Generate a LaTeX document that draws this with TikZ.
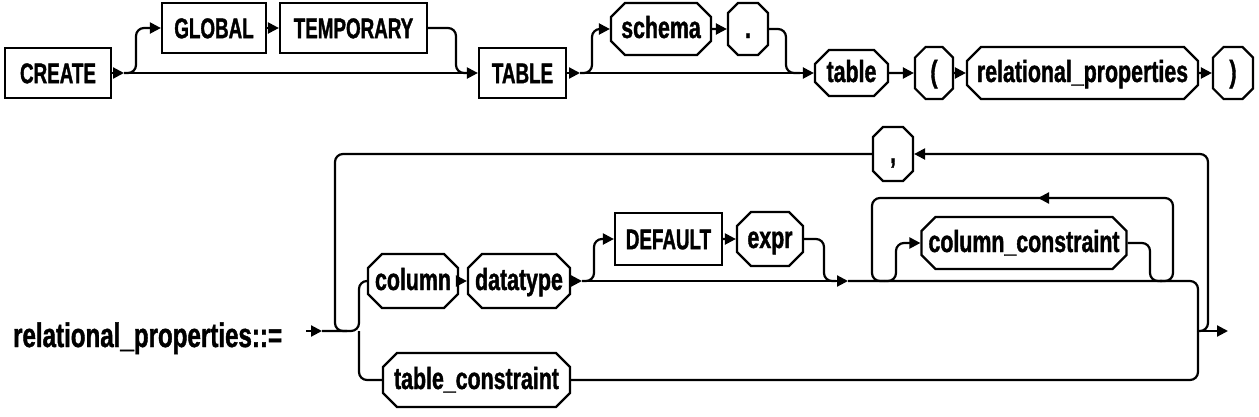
\documentclass[tikz,border=0pt]{standalone}
\usepackage{fontspec}
\newfontfamily\kwfont{Liberation Sans}[FakeStretch=0.66,FakeBold=1.2]
\newfontfamily\ntfont{Liberation Sans}[FakeStretch=0.70,FakeBold=1.2]
\newfontfamily\lbfont{Liberation Sans}[FakeStretch=0.71,FakeBold=1.2]
\usetikzlibrary{arrows.meta,shapes.misc}
\begin{document}
\begin{tikzpicture}[x=1pt,y=-1pt,
  line width=2.2pt,
  arr/.style={-{Triangle[length=11pt,width=11pt]}},
  kw/.style={draw, line width=2.2pt, inner sep=0pt, minimum height=50pt,
    font=\fontsize{28.5}{30}\selectfont\kwfont\bfseries, text height=20.4pt, text depth=0pt},
  nt/.style={draw, line width=2.2pt, chamfered rectangle, chamfered rectangle xsep=7pt,
    chamfered rectangle ysep=7pt, inner sep=0pt, minimum height=52pt,
    font=\fontsize{30.5}{32}\selectfont\ntfont\bfseries, text height=22pt, text depth=4pt},
  conn/.style={line width=2.2pt, rounded corners=8pt}
]
\useasboundingbox (0,0) rectangle (1259,416);
% ---------- top diagram ----------
\node[kw, minimum width=106pt] (create) at (58,73) {CREATE};
\node[kw, minimum width=104pt] (global) at (214,28) {GLOBAL};
\node[kw, minimum width=147pt] (temp) at (353.5,28) {TEMPORARY};
\node[kw, minimum width=87pt] (tablekw) at (522.5,73) {TABLE};
\node[nt, minimum width=100pt] (schema) at (661,29) {schema};
\node[nt, minimum width=40pt] (dot) at (748,29) {.};
\node[nt, minimum width=73pt, minimum height=46pt] (tbl) at (851.5,73) {table};
\node[nt, minimum width=38pt] (lp) at (934,73) {(};
\node[nt, minimum width=231pt] (rp) at (1082.5,73) {relational\_properties};
\node[nt, minimum width=40pt] (rpar) at (1233,73) {)};

\coordinate (j1) at (124,73);
\coordinate (j1b) at (470,73);
\coordinate (j2) at (580,73);
\coordinate (j2b) at (800,73);
\draw[arr] (create.east) -- (j1);
\draw[arr] (j1) -- (tablekw.west);
\draw[conn,arr] (j1) -| (136,28) -- (global.west);
\draw[arr] (global) -- (temp);
\draw[conn] (temp.east) -| (456,73) -- (j1b);
\draw[arr] (tablekw.east) -- (j2);
\draw[arr] (j2) -- (tbl.west);
\draw[conn,arr] (j2) -| (592,29) -- (schema.west);
\draw[arr] (schema) -- (dot);
\draw[conn] (dot.east) -| (786,73) -- (j2b);
\draw[arr] (tbl) -- (lp);
\draw[arr] (lp) -- (rp);
\draw[arr] (rp) -- (rpar);

% ---------- bottom diagram ----------
\node[anchor=base west, inner sep=0pt, font=\fontsize{34}{36}\selectfont\lbfont\bfseries] (lbl) at (12,347) {relational\_properties::=};
\node[nt, minimum width=90pt, minimum height=54pt] (col) at (413,281) {column};
\node[nt, minimum width=102pt, minimum height=54pt] (dtype) at (519,281) {datatype};
\node[kw, minimum width=107pt, minimum height=52pt] (def) at (668.5,239) {DEFAULT};
\node[nt, minimum width=66pt, minimum height=54pt] (expr) at (770,239) {expr};
\node[nt, minimum width=202pt] (cc) at (1024,243) {column\_constraint};
\node[nt, minimum width=187pt, minimum height=54pt] (tc) at (476.5,380) {table\_constraint};
\node[nt, minimum width=40pt, minimum height=54pt] (comma) at (893,154) {,};

\coordinate (s0) at (306,331);
\coordinate (s1) at (322,331);
\coordinate (b0) at (359,331);
\coordinate (lj) at (347,331);
\coordinate (j3) at (582,281);
\coordinate (j3b) at (836,281);
\coordinate (j4) at (848,281);
\coordinate (c1) at (884,281);
\coordinate (c2) at (1162,281);
\coordinate (c3) at (1160,281);
\coordinate (ta) at (1038,198);
\coordinate (tb) at (1045,198);
\coordinate (jend) at (1198,331);
\coordinate (exit) at (1228,331);

\draw[arr] (s0) -- (s1);
\draw[conn] (s1) -| (359,281) -- (col.west);
\draw[conn] (b0) |- (tc.west);
\draw[conn] (comma.west) -| (335,331) -- (lj);
\draw[arr] (col) -- (dtype);
\draw[arr] (dtype.east) -- (j3);
\draw[conn,arr] (j3) -| (594,239) -- (def.west);
\draw[arr] (def) -- (expr);
\draw[conn] (expr.east) -| (824,281) -- (j3b);
\draw[arr] (j3) -- (j4);
\draw[conn] (j4) -| (jend);
\draw[conn] (tc.east) -| (jend);
\draw[arr] (jend) -- (exit);
\draw[conn,arr] (jend) -| (1208,154) -- (comma.east);
% column_constraint loop
\draw[conn,arr] (c1) -| (896,243) -- (cc.west);
\draw[conn] (cc.east) -| (1150,281) -- (c2);
\draw[conn,arr] (c3) -| (1173,198) -- (ta);
\draw[conn] (tb) -| (872,281) -- (c1);
\end{tikzpicture}
\end{document}
